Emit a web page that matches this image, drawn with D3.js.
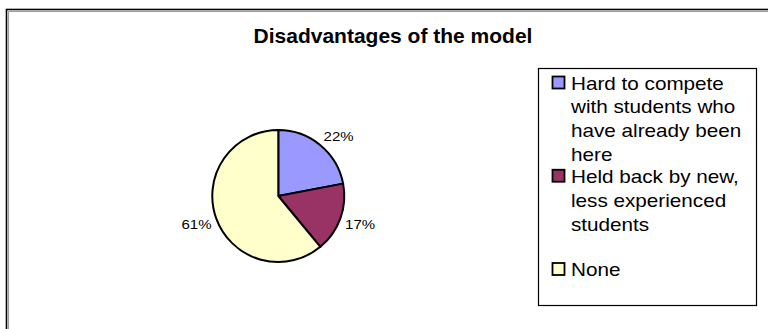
<!DOCTYPE html>
<html>
<head>
<meta charset="utf-8">
<script src="https://cdn.jsdelivr.net/npm/d3@7"></script>
<style>
  body { margin: 0; background: #fff; }
  svg { display: block; }
</style>
</head>
<body>
<svg id="chart" width="768" height="329"></svg>
<script>
// ---- data ----
const chartTitle = "Disadvantages of the model";
const categories = [
  "Hard to compete with students who have already been here",
  "Held back by new, less experienced students",
  "None"
];
const values = [22, 17, 61];
const sliceColors = ["#9999FF", "#993366", "#FFFFCC"];

// ---- layout ----
const FONT = "Arial, 'Liberation Sans', Helvetica, sans-serif";
const pieCenter = { x: 278.3, y: 196 };
const radius = 66;
const labelGap = 71;          // distance of the label's nearest corner from the centre
const labelHalfW = 15, labelHalfH = 5;
const legendBox = { x: 538.5, y: 68.5, w: 218, h: 237 };
const legendTextX = 571;
const legendWrap = 180;
const legendLine = 24;

const svg = d3.select("#chart");

// outer chart frame (runs off the right and bottom edges)
svg.append("rect")
  .attr("x", 6.5).attr("y", 9.5)
  .attr("width", 900).attr("height", 500)
  .attr("fill", "#fff")
  .attr("stroke", "#000").attr("stroke-width", 1.6);
svg.append("path")
  .attr("d", "M8.5,400V11.5H900")
  .attr("fill", "none")
  .attr("stroke", "#9a9a9a").attr("stroke-width", 1);

// helper: text with a slight horizontal stretch
function stretchedText(parent, x, y, sx, size, weight, anchor, str) {
  const g = parent.append("g").attr("transform", `translate(${x},${y}) scale(${sx},1)`);
  return g.append("text")
    .attr("font-family", FONT)
    .attr("font-size", size)
    .attr("font-weight", weight)
    .attr("text-anchor", anchor)
    .attr("fill", "#000")
    .text(str);
}

// title
stretchedText(svg, 393, 43, 1.05, 20, "bold", "middle", chartTitle);

// pie
const pie = d3.pie().sort(null).value(d => d)(values);
const arc = d3.arc().innerRadius(0).outerRadius(radius);
const pieG = svg.append("g").attr("transform", `translate(${pieCenter.x},${pieCenter.y})`);

pieG.selectAll("path.slice")
  .data(pie)
  .join("path")
  .attr("class", "slice")
  .attr("d", arc)
  .attr("fill", (d, i) => sliceColors[i])
  .attr("stroke", "#000")
  .attr("stroke-width", 2)
  .attr("stroke-linejoin", "round");

// percentage labels: the corner of each label box nearest the pie sits on
// the ray through the middle of its slice
pie.forEach((d, i) => {
  const a = (d.startAngle + d.endAngle) / 2;
  const s = Math.sin(a), c = Math.cos(a);
  const px = pieCenter.x + labelGap * s;
  const py = pieCenter.y - labelGap * c;
  const cx = px + Math.sign(s) * labelHalfW;
  const cy = py - Math.sign(c) * labelHalfH;
  stretchedText(svg, cx, cy + 4.3, 1.25, 12, "normal", "middle",
    d3.format(".0f")(values[i]) + "%");
});

// legend
svg.append("rect")
  .attr("x", legendBox.x).attr("y", legendBox.y)
  .attr("width", legendBox.w).attr("height", legendBox.h)
  .attr("fill", "#fff")
  .attr("stroke", "#000").attr("stroke-width", 1.2);

const legendSX = 1.15, legendSize = 18;
const itemY = d3.scalePoint().domain(categories).range([89.5, 276]);

// measure for word wrapping
const probe = svg.append("text")
  .attr("font-family", FONT).attr("font-size", legendSize)
  .attr("visibility", "hidden");
function wrap(str) {
  const words = str.split(" ");
  const lines = [];
  let cur = "";
  words.forEach(w => {
    const test = cur ? cur + " " + w : w;
    probe.text(test);
    if (cur && probe.node().getComputedTextLength() * legendSX > legendWrap) {
      lines.push(cur);
      cur = w;
    } else {
      cur = test;
    }
  });
  if (cur) lines.push(cur);
  return lines;
}

categories.forEach((c, i) => {
  const by = itemY(c);
  svg.append("rect")
    .attr("x", 552.5).attr("y", by - 13)
    .attr("width", 12).attr("height", 12)
    .attr("fill", sliceColors[i])
    .attr("stroke", "#000").attr("stroke-width", 1.8);

  const t = stretchedText(svg, legendTextX, by, legendSX, legendSize, "normal", "start", null);
  wrap(c).forEach((line, k) => {
    t.append("tspan").attr("x", 0).attr("y", k * legendLine).text(line);
  });
});
probe.remove();
</script>
</body>
</html>
